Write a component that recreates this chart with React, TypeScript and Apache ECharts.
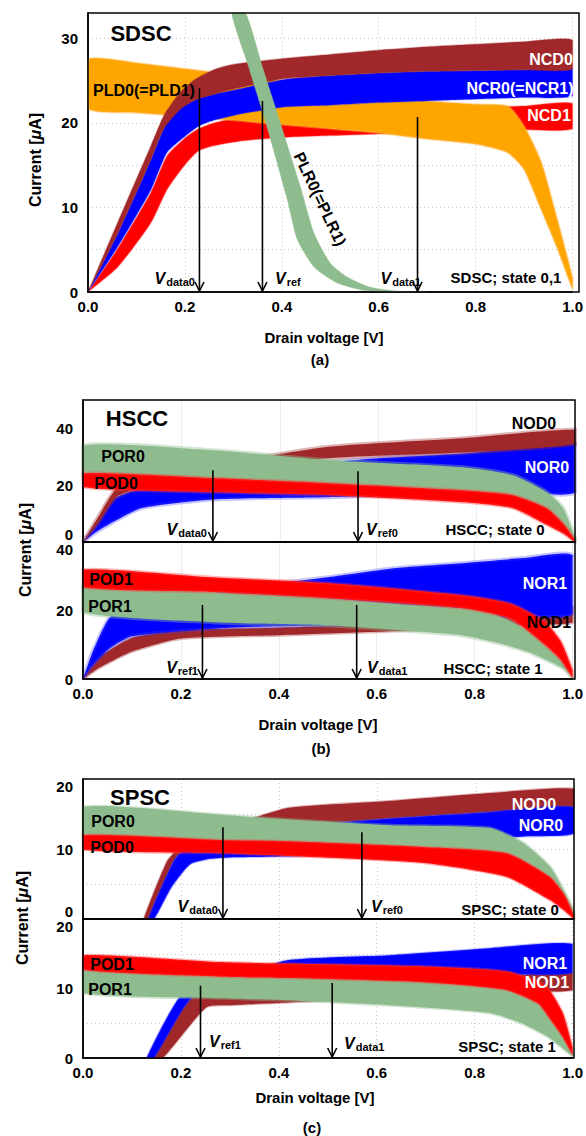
import React, { useEffect, useRef } from "react";
import * as echarts from "echarts";

// ---------------- (a) SDSC ----------------
const A_NCD0_X = [0, 0.062, 0.13, 0.157, 0.19, 0.22, 0.26, 0.3, 0.4, 0.5, 0.6, 0.7, 0.8, 0.9, 1.0];
const A_NCD0_HI = [0, 8.3, 17.3, 20.9, 23.6, 25.1, 26.3, 26.9, 27.6, 28.1, 28.6, 29.0, 29.3, 29.6, 29.8];
const A_NCD0_LO = [0, 7.0, 15.7, 19.4, 21.6, 22.7, 23.4, 24.0, 25.2, 25.6, 25.9, 26.1, 26.2, 26.3, 26.4];

const A_NCR0_X = [0, 0.062, 0.13, 0.163, 0.198, 0.228, 0.26, 0.32, 0.41, 0.5, 0.6, 0.7, 0.8, 0.9, 1.0];
const A_NCR0_HI = [0, 7.0, 15.7, 20.1, 22.0, 22.9, 23.4, 24.1, 25.2, 25.6, 25.9, 26.1, 26.2, 26.3, 26.4];
const A_NCR0_LO = [0, 5.4, 12.1, 16.5, 18.3, 19.6, 20.3, 21.1, 21.9, 22.1, 22.4, 22.6, 22.8, 23.0, 23.2];

const A_NCD1_X = [0, 0.062, 0.13, 0.163, 0.198, 0.228, 0.26, 0.32, 0.41, 0.5, 0.6, 0.7, 0.8, 0.9, 1.0];
const A_NCD1_HI = [0, 5.2, 11.8, 16.1, 18.1, 19.3, 20.0, 20.7, 21.0, 21.2, 21.4, 21.6, 21.8, 22.0, 22.3];
const A_NCD1_LO = [0, 3.0, 8.2, 12.1, 14.9, 16.7, 17.3, 17.9, 18.3, 18.5, 18.7, 18.8, 19.0, 19.2, 19.3];

const A_PLD0_X = [0, 0.1, 0.2, 0.3, 0.4, 0.5, 0.6, 0.7, 0.8, 0.866, 0.9, 0.935, 0.967, 1.0];
const A_PLD0_HI = [27.5, 27.1, 26.4, 25.7, 25.0, 24.2, 23.4, 22.6, 22.2, 22.0, 19.6, 15.4, 8.9, 1.6];
const A_PLD0_LO = [21.7, 21.2, 20.8, 20.3, 19.8, 19.3, 18.8, 18.1, 17.5, 16.5, 14.5, 9.8, 5.4, 0.4];

const A_PLR_HI_X = [0.325, 0.36, 0.397, 0.438, 0.466, 0.5, 0.534, 0.58, 0.64, 0.7];
const A_PLR_HI = [33, 26.6, 20.0, 12.5, 7.0, 3.4, 1.8, 0.6, 0.1, 0];
const A_PLR_LO_X = [0.297, 0.33, 0.367, 0.411, 0.432, 0.466, 0.513, 0.568, 0.62];
const A_PLR_LO = [33, 26.9, 20.0, 11.0, 6.2, 3.0, 1.1, 0.2, 0];

const A_ARROW_X = [0.23, 0.36, 0.68];
const A_ARROW_TOP = [24.1, 22.6, 20.7];

// ---------------- (b) HSCC state 0 ----------------
const B0_NOD0_X = [0, 0.03, 0.069, 0.12, 0.3, 0.5, 0.772, 1.0];
const B0_NOD0_HI = [0, 8.5, 19, 22, 28, 33.5, 36.5, 39.5];
const B0_NOD0_LO = [0, 6.5, 16, 19, 25, 29.5, 31.5, 34.5];

const B0_NOR0_X = [0, 0.027, 0.061, 0.12, 0.265, 0.5, 0.6, 0.772, 0.9, 1.0];
const B0_NOR0_HI = [0, 6.0, 15.0, 19.0, 23.0, 28.0, 29.5, 31.2, 33.3, 34.7];
const B0_NOR0_LO = [0, 3.5, 7.0, 12.0, 15.0, 15.8, 16.3, 17.0, 17.3, 17.5];

const B0_POR0_X = [0, 0.265, 0.5, 0.772, 0.874, 0.943, 0.976, 1.0];
const B0_POR0_HI = [34.0, 32.3, 28.8, 26.3, 23.5, 17.5, 11.9, 1.4];
const B0_POR0_LO = [23.0, 21.0, 19.0, 17.0, 15.0, 10.0, 5.0, 0.3];

const B0_POD0_X = [0, 0.265, 0.5, 0.772, 0.874, 0.943, 0.976, 1.0];
const B0_POD0_HI = [24.2, 22.5, 20.7, 18.2, 16.5, 11.9, 6.5, 0.8];
const B0_POD0_LO = [19.3, 17.5, 16.5, 14.0, 11.9, 6.0, 3.0, 0];

const B0_ARROW_X = [0.264, 0.559];
const B0_ARROW_TOP = [25.3, 24.9];

// ---------------- (b) HSCC state 1 ----------------
const B1_NOD1_X = [0, 0.03, 0.1, 0.2, 0.4, 0.6, 0.8, 0.9, 1.0];
const B1_NOD1_HI = [0, 6.0, 12.0, 14.3, 15.0, 16.3, 18.5, 19.8, 21.0];
const B1_NOD1_LO = [0, 3.0, 8.0, 11.8, 12.8, 13.8, 15.0, 15.8, 16.5];

const B1_NOR1_X = [0, 0.02, 0.055, 0.1, 0.3, 0.5, 0.64, 0.772, 0.9, 1.0];
const B1_NOR1_HI = [0, 8.0, 18.0, 20.5, 26.0, 29.7, 32.4, 33.8, 35.3, 36.1];
const B1_NOR1_LO = [0, 4.0, 9.0, 12.5, 15.0, 15.7, 16.2, 17.2, 18.2, 19.0];

const B1_POR1_X = [0, 0.265, 0.5, 0.64, 0.772, 0.84, 0.91, 0.98, 1.0];
const B1_POR1_HI = [26.8, 25.4, 23.6, 22.0, 20.7, 19.0, 14.0, 5.0, 1.0];
const B1_POR1_LO = [19.5, 16.6, 15.7, 14.3, 12.8, 10.8, 7.9, 3.2, 0.3];

const B1_POD1_X = [0, 0.265, 0.5, 0.772, 0.874, 0.943, 0.976, 1.0];
const B1_POD1_HI = [32.0, 29.7, 28.0, 24.5, 22.0, 16.8, 11.0, 2.5];
const B1_POD1_LO = [26.8, 25.4, 23.6, 20.7, 17.5, 10.0, 5.5, 0.5];

const B1_ARROW_X = [0.244, 0.559];
const B1_ARROW_TOP = [21.6, 21.6];

// ---------------- (c) SPSC state 0 ----------------
const C0_NOD0_HI_X = [0.124, 0.171, 0.194, 0.25, 0.35, 0.42, 0.63, 0.83, 1.0];
const C0_NOD0_HI = [0, 8.2, 10.0, 12.5, 14.5, 15.9, 16.9, 18.0, 18.6];
const C0_NOD0_LO_X = [0.133, 0.184, 0.207, 0.26, 0.35, 0.42, 0.63, 0.83, 1.0];
const C0_NOD0_LO = [0, 8.2, 10.0, 11.5, 12.5, 13.2, 14.4, 15.3, 16.0];

const C0_NOR0_HI_X = [0.133, 0.184, 0.207, 0.26, 0.35, 0.42, 0.63, 0.83, 1.0];
const C0_NOR0_HI = [0, 8.2, 10.0, 11.5, 12.5, 13.2, 14.4, 15.3, 16.0];
const C0_NOR0_LO_X = [0.145, 0.18, 0.218, 0.26, 0.3, 0.45, 0.6, 0.8, 0.9, 1.0];
const C0_NOR0_LO = [0, 4.5, 7.8, 8.6, 8.8, 9.0, 10.0, 11.2, 11.8, 12.2];

const C0_POR0_X = [0, 0.279, 0.42, 0.625, 0.829, 0.896, 0.951, 0.98, 1.0];
const C0_POR0_HI = [16.0, 14.9, 14.2, 13.4, 13.0, 10.9, 7.5, 4.0, 1.0];
const C0_POR0_LO = [11.5, 10.8, 10.6, 10.1, 9.0, 7.5, 5.0, 2.5, 0.3];

const C0_POD0_X = [0, 0.279, 0.42, 0.693, 0.863, 0.951, 0.98, 1.0];
const C0_POD0_HI = [12.0, 11.3, 11.1, 10.3, 9.4, 6.0, 3.5, 0.5];
const C0_POD0_LO = [9.9, 9.4, 9.0, 8.0, 6.0, 2.7, 1.2, 0];

const C0_ARROW_X = [0.285, 0.568];
const C0_ARROW_TOP = [13.1, 12.4];

// ---------------- (c) SPSC state 1 ----------------
const C1_NOD1_HI_X = [0.145, 0.222, 0.3, 0.42, 0.6, 0.8, 0.9, 1.0];
const C1_NOD1_HI = [0, 8.6, 9.0, 9.5, 10.5, 11.5, 12.0, 12.3];
const C1_NOD1_LO_X = [0.163, 0.252, 0.3, 0.42, 0.6, 0.8, 0.9, 1.0];
const C1_NOD1_LO = [0, 7.3, 7.6, 8.0, 8.6, 9.3, 9.6, 9.8];

const C1_NOR1_HI_X = [0.13, 0.198, 0.25, 0.3, 0.42, 0.625, 0.829, 1.0];
const C1_NOR1_HI = [0, 8.8, 10.0, 11.5, 14.1, 14.8, 15.8, 16.4];
const C1_NOR1_LO_X = [0.145, 0.222, 0.3, 0.42, 0.6, 0.8, 0.9, 1.0];
const C1_NOR1_LO = [0, 8.6, 9.0, 9.5, 10.5, 11.5, 12.0, 12.3];

const C1_POR1_X = [0, 0.279, 0.42, 0.625, 0.829, 0.896, 0.951, 1.0];
const C1_POR1_HI = [12.9, 11.9, 11.7, 11.3, 10.8, 9.5, 7.0, 0.8];
const C1_POR1_LO = [9.4, 8.6, 8.3, 7.6, 6.5, 5.0, 3.0, 0.3];

const C1_POD1_X = [0, 0.279, 0.42, 0.693, 0.863, 0.93, 0.951, 0.98, 1.0];
const C1_POD1_HI = [14.8, 13.8, 13.6, 13.2, 12.5, 11.0, 10.0, 6.5, 1.5];
const C1_POD1_LO = [12.7, 11.7, 11.5, 10.9, 9.8, 7.8, 5.9, 3.0, 0.5];

const C1_ARROW_X = [0.24, 0.509];
const C1_ARROW_TOP = [10.4, 10.8];

// ---------------- styling ----------------
const FONT = '"Liberation Sans", Arial, Helvetica, sans-serif';
const BROWN = "#A0282B";
const BLUE = "#0000FF";
const RED = "#FF0000";
const ORANGE = "#FFA500";
const GREEN = "#8FBC8F";
const FRINGE: Record<string, string> = {
  [BROWN]: "rgba(160,40,43,0.35)",
  [BLUE]: "rgba(60,60,255,0.3)",
  [RED]: "rgba(255,60,60,0.35)",
  [ORANGE]: "rgba(255,180,60,0.45)",
  [GREEN]: "rgba(143,188,143,0.4)",
};

const GRIDS = [
  { left: 88, top: 13, width: 491, height: 279 },
  { left: 83, top: 400, width: 492, height: 142 },
  { left: 83, top: 542, width: 492, height: 137 },
  { left: 83, top: 779, width: 491, height: 140 },
  { left: 83, top: 919, width: 491, height: 139 },
];

const zip = (xs: number[], ys: number[]) => xs.map((x, i) => [x, ys[i]]);

function band(g: number, color: string, hx: number[], hy: number[], lx: number[], ly: number[], fw: number) {
  const upper = zip(hx, hy);
  const lower = zip(lx, ly);
  return {
    type: "custom",
    xAxisIndex: g,
    yAxisIndex: g,
    silent: true,
    data: [[0, 0]],
    renderItem: (params: any, api: any) => {
      const pts = upper.map((p) => api.coord(p)).concat(lower.slice().reverse().map((p) => api.coord(p)));
      const cs = params.coordSys;
      const rect = { x: cs.x, y: cs.y, width: cs.width, height: cs.height };
      return {
        type: "polygon",
        shape: {
          points: echarts.graphic.clipPointsByRect(pts, rect),
          smooth: 0.2,
          smoothConstraint: [[cs.x, cs.y], [cs.x + cs.width, cs.y + cs.height]],
        },
        style: { fill: color, stroke: FRINGE[color], lineWidth: fw },
      };
    },
  };
}

function arrows(g: number, xs: number[], tops: number[]) {
  return {
    type: "custom",
    xAxisIndex: g,
    yAxisIndex: g,
    silent: true,
    z: 10,
    data: zip(xs, tops),
    renderItem: (params: any, api: any) => {
      const top = api.coord([api.value(0), api.value(1)]);
      const bot = api.coord([api.value(0), 0]);
      const x = bot[0];
      const y = bot[1] - 1;
      return {
        type: "group",
        children: [
          { type: "line", shape: { x1: top[0], y1: top[1], x2: x, y2: y }, style: { stroke: "#000", lineWidth: 1.6 } },
          {
            type: "polyline",
            shape: { points: [[x - 4.5, y - 9], [x, y], [x + 4.5, y - 9]] },
            style: { stroke: "#000", lineWidth: 1.6, fill: "none" },
          },
        ],
      };
    },
  };
}

const labelStyle = { fontSize: 15, fontWeight: "bold", color: "#000", fontFamily: FONT };

function xAxis(g: number, showLabels: boolean, split: any) {
  return {
    type: "value",
    gridIndex: g,
    min: 0,
    max: 1,
    interval: 0.2,
    axisLine: { show: true, lineStyle: { color: "#000", width: 1.5 } },
    axisTick: { show: false },
    axisLabel: { show: showLabels, margin: 7, formatter: (v: number) => v.toFixed(1), ...labelStyle },
    splitLine: split,
  };
}

function yAxis(g: number, max: number, interval: number, step: number, labelMax: number, split: any, extra: any) {
  return {
    type: "value",
    gridIndex: g,
    min: 0,
    max,
    interval,
    axisLine: { show: true, lineStyle: { color: "#000", width: 1.5 } },
    axisTick: { show: false },
    axisLabel: {
      margin: 10,
      formatter: (v: number) => (Math.abs(v % step) < 1e-6 && v <= labelMax ? String(v) : ""),
      ...labelStyle,
      ...extra,
    },
    splitLine: split,
  };
}

const DOTTED = { show: true, lineStyle: { color: "#c8c8c8", type: [1, 3], width: 1 } };
const FAINT = { show: true, lineStyle: { color: "#ececec", width: 1 } };
const NONE = { show: false };

function txt(x: number, y: number, text: string, size: number, color: string, align = "center", rotation = 0) {
  return {
    type: "text",
    x,
    y,
    rotation,
    z: 100,
    silent: true,
    style: { text, fill: color, fontSize: size, fontWeight: "bold", fontFamily: FONT, align, verticalAlign: "middle" },
  };
}

function vlab(x: number, y: number, sub: string, align: string) {
  return {
    type: "text",
    x,
    y,
    z: 100,
    silent: true,
    style: {
      text: `{v|V}{s|${sub}}`,
      align,
      verticalAlign: "middle",
      rich: {
        v: { fontFamily: FONT, fontSize: 16, fontWeight: "bold", fontStyle: "italic", fill: "#000", lineHeight: 18 },
        s: { fontFamily: FONT, fontSize: 11, fontWeight: "bold", fill: "#000", padding: [7, 0, 0, 1], lineHeight: 11 },
      },
    },
  };
}

function ylabel(x: number, y: number) {
  return {
    type: "text",
    x,
    y,
    rotation: Math.PI / 2,
    z: 100,
    silent: true,
    style: {
      text: "{a|Current [}{m|μ}{a|A]}",
      align: "center",
      verticalAlign: "middle",
      rich: {
        a: { fontFamily: FONT, fontSize: 16, fontWeight: "bold", fill: "#000" },
        m: { fontFamily: FONT, fontSize: 16, fontWeight: "bold", fontStyle: "italic", fill: "#000" },
      },
    },
  };
}

export default function App() {
  const ref = useRef<HTMLDivElement>(null);
  useEffect(() => {
    document.body.style.margin = "0";
    if (!ref.current) return;
    const chart = echarts.init(ref.current, null, { renderer: "svg" });

    const frames = GRIDS.map((gr) => ({
      type: "rect",
      z: 90,
      silent: true,
      shape: { x: gr.left, y: gr.top, width: gr.width, height: gr.height },
      style: { fill: "none", stroke: "#000", lineWidth: 1.5 },
    }));

    const graphics = [
      ...frames,
      // (a)
      txt(141, 33, "SDSC", 22, "#000"),
      txt(144, 90, "PLD0(=PLD1)", 16, "#000"),
      txt(551, 59, "NCD0", 16, "#fff"),
      txt(520, 88, "NCR0(=NCR1)", 16, "#fff"),
      txt(549, 115, "NCD1", 16, "#fff"),
      txt(320, 199, "PLR0(=PLR1)", 16, "#000", "center", -1.13),
      txt(506, 277, "SDSC; state 0,1", 15, "#000"),
      vlab(195, 278, "data0", "right"),
      vlab(275, 278, "ref", "left"),
      vlab(421, 278, "data1", "right"),
      ylabel(35, 160),
      txt(324, 337, "Drain voltage [V]", 15, "#000"),
      txt(320, 359, "(a)", 15, "#000"),
      // (b)
      txt(137, 418, "HSCC", 22, "#000"),
      txt(123, 456, "POR0", 16, "#000"),
      txt(116, 483, "POD0", 16, "#000"),
      txt(534, 423, "NOD0", 16, "#000"),
      txt(547, 467, "NOR0", 16, "#fff"),
      txt(495, 529, "HSCC; state 0", 15, "#000"),
      vlab(207, 529, "data0", "right"),
      vlab(366, 529, "ref0", "left"),
      txt(111, 579, "POD1", 16, "#000"),
      txt(110, 606, "POR1", 16, "#000"),
      txt(545, 583, "NOR1", 16, "#fff"),
      txt(549, 622, "NOD1", 16, "#000"),
      txt(493, 668, "HSCC; state 1", 15, "#000"),
      vlab(198, 667, "ref1", "right"),
      vlab(367, 667, "data1", "left"),
      ylabel(25, 550),
      txt(318, 724, "Drain voltage [V]", 15, "#000"),
      txt(321, 748, "(b)", 15, "#000"),
      // (c)
      txt(140, 797, "SPSC", 22, "#000"),
      txt(113, 821, "POR0", 16, "#000"),
      txt(112, 847, "POD0", 16, "#000"),
      txt(534, 804, "NOD0", 16, "#fff"),
      txt(541, 825, "NOR0", 16, "#fff"),
      txt(510, 909, "SPSC; state 0", 15, "#000"),
      vlab(218, 906, "data0", "right"),
      vlab(371, 906, "ref0", "left"),
      txt(112, 964, "POD1", 16, "#000"),
      txt(110, 989, "POR1", 16, "#000"),
      txt(545, 963, "NOR1", 16, "#fff"),
      txt(547, 982, "NOD1", 16, "#fff"),
      txt(507, 1046, "SPSC; state 1", 15, "#000"),
      vlab(209, 1041, "ref1", "left"),
      vlab(344, 1043, "data1", "left"),
      ylabel(22, 918),
      txt(315, 1097, "Drain voltage [V]", 15, "#000"),
      txt(312, 1127, "(c)", 15, "#000"),
    ];

    const option: any = {
      animation: false,
      backgroundColor: "#fff",
      grid: GRIDS.map((g) => ({ ...g, containLabel: false })),
      xAxis: [
        xAxis(0, true, DOTTED),
        xAxis(1, false, FAINT),
        xAxis(2, true, FAINT),
        xAxis(3, false, DOTTED),
        xAxis(4, true, DOTTED),
      ],
      yAxis: [
        yAxis(0, 33, 5, 10, 30, DOTTED, {}),
        yAxis(1, 50, 10, 20, 40, NONE, { verticalAlignMinLabel: "bottom" }),
        yAxis(2, 40, 10, 20, 40, NONE, { verticalAlignMaxLabel: "top" }),
        yAxis(3, 20, 5, 10, 20, DOTTED, { verticalAlignMinLabel: "bottom", verticalAlignMaxLabel: "top" }),
        yAxis(4, 20, 5, 10, 20, DOTTED, { verticalAlignMaxLabel: "top" }),
      ],
      series: [
        band(0, RED, A_NCD1_X, A_NCD1_HI, A_NCD1_X, A_NCD1_LO, 1.5),
        band(0, ORANGE, A_PLD0_X, A_PLD0_HI, A_PLD0_X, A_PLD0_LO, 2),
        band(0, BLUE, A_NCR0_X, A_NCR0_HI, A_NCR0_X, A_NCR0_LO, 1.5),
        band(0, BROWN, A_NCD0_X, A_NCD0_HI, A_NCD0_X, A_NCD0_LO, 1.5),
        band(0, GREEN, A_PLR_HI_X, A_PLR_HI, A_PLR_LO_X, A_PLR_LO, 1),
        arrows(0, A_ARROW_X, A_ARROW_TOP),

        band(1, BLUE, B0_NOR0_X, B0_NOR0_HI, B0_NOR0_X, B0_NOR0_LO, 4),
        band(1, BROWN, B0_NOD0_X, B0_NOD0_HI, B0_NOD0_X, B0_NOD0_LO, 4),
        band(1, GREEN, B0_POR0_X, B0_POR0_HI, B0_POR0_X, B0_POR0_LO, 4),
        band(1, RED, B0_POD0_X, B0_POD0_HI, B0_POD0_X, B0_POD0_LO, 3),
        arrows(1, B0_ARROW_X, B0_ARROW_TOP),

        band(2, BROWN, B1_NOD1_X, B1_NOD1_HI, B1_NOD1_X, B1_NOD1_LO, 3),
        band(2, BLUE, B1_NOR1_X, B1_NOR1_HI, B1_NOR1_X, B1_NOR1_LO, 4),
        band(2, GREEN, B1_POR1_X, B1_POR1_HI, B1_POR1_X, B1_POR1_LO, 4),
        band(2, RED, B1_POD1_X, B1_POD1_HI, B1_POD1_X, B1_POD1_LO, 3),
        arrows(2, B1_ARROW_X, B1_ARROW_TOP),

        band(3, BROWN, C0_NOD0_HI_X, C0_NOD0_HI, C0_NOD0_LO_X, C0_NOD0_LO, 2),
        band(3, BLUE, C0_NOR0_HI_X, C0_NOR0_HI, C0_NOR0_LO_X, C0_NOR0_LO, 2),
        band(3, GREEN, C0_POR0_X, C0_POR0_HI, C0_POR0_X, C0_POR0_LO, 3),
        band(3, RED, C0_POD0_X, C0_POD0_HI, C0_POD0_X, C0_POD0_LO, 2.5),
        arrows(3, C0_ARROW_X, C0_ARROW_TOP),

        band(4, BROWN, C1_NOD1_HI_X, C1_NOD1_HI, C1_NOD1_LO_X, C1_NOD1_LO, 2),
        band(4, BLUE, C1_NOR1_HI_X, C1_NOR1_HI, C1_NOR1_LO_X, C1_NOR1_LO, 2),
        band(4, GREEN, C1_POR1_X, C1_POR1_HI, C1_POR1_X, C1_POR1_LO, 3),
        band(4, RED, C1_POD1_X, C1_POD1_HI, C1_POD1_X, C1_POD1_LO, 2.5),
        arrows(4, C1_ARROW_X, C1_ARROW_TOP),
      ],
      graphic: graphics,
    };
    chart.setOption(option);
    return () => chart.dispose();
  }, []);
  return <div ref={ref} style={{ width: 586, height: 1136 }} />;
}
